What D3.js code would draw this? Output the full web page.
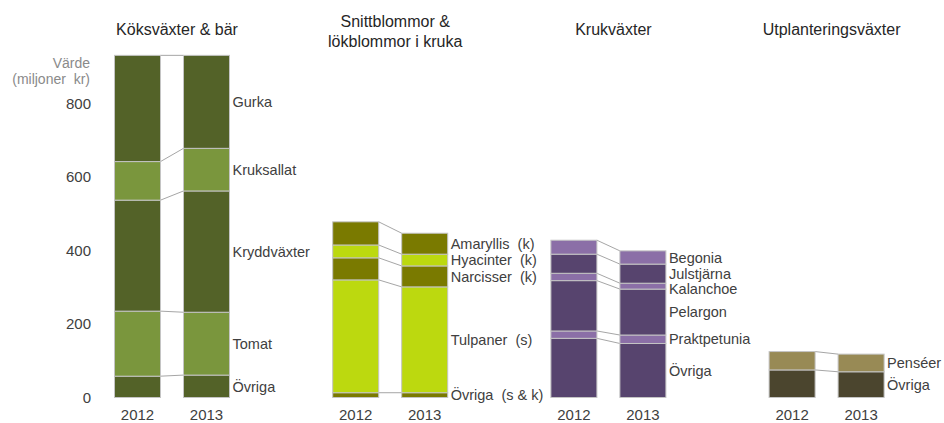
<!DOCTYPE html>
<html>
<head>
<meta charset="utf-8">
<script src="https://cdn.jsdelivr.net/npm/d3@7"></script>
<style>
  html, body { margin: 0; padding: 0; background: #fff; }
  svg { display: block; font-family: "Liberation Sans", Arial, sans-serif; }
</style>
</head>
<body>
<svg id="chart" width="944" height="423"></svg>
<script>
// ---- Data ----
const groups = ["Köksväxter & bär", "Snittblommor & lökblommor i kruka", "Krukväxter", "Utplanteringsväxter"];
const years = ["2012", "2013"];
const yTicks = [0, 200, 400, 600, 800];

// categories bottom -> top
const koksCats = ["Övriga", "Tomat", "Kryddväxter", "Kruksallat", "Gurka"];
const koks2012 = [58, 177, 302, 105, 289];
const koks2013 = [61, 171, 330, 116, 253];

const snittCats = ["Övriga  (s & k)", "Tulpaner  (s)", "Narcisser  (k)", "Hyacinter  (k)", "Amaryllis  (k)"];
const snitt2012 = [13, 307, 60, 35, 63];
const snitt2013 = [13, 288, 57, 32, 57];

const krukCats = ["Övriga", "Praktpetunia", "Pelargon", "Kalanchoe", "Julstjärna", "Begonia"];
const kruk2012 = [161, 20, 137, 20, 52, 38];
const kruk2013 = [147, 23, 125, 16, 52, 36];

const utplCats = ["Övriga", "Penséer"];
const utpl2012 = [75, 50];
const utpl2013 = [70, 48];

// ---- Styles ----
const palettes = [
  { dark: "#536228", light: "#7a963d" },
  { dark: "#7a7a00", light: "#bcd90f" },
  { dark: "#57446e", light: "#8b6fa7" },
  { dark: "#4b452e", light: "#988a55" }
];

const table = [
  { cats: koksCats, v: { "2012": koks2012, "2013": koks2013 } },
  { cats: snittCats, v: { "2012": snitt2012, "2013": snitt2013 } },
  { cats: krukCats, v: { "2012": kruk2012, "2013": kruk2013 } },
  { cats: utplCats, v: { "2012": utpl2012, "2013": utpl2013 } }
];

const svg = d3.select("#chart");
const textColor = "#404040";

const y = d3.scaleLinear().domain([0, 800]).range([397.5, 103.5]);
const outer = d3.scaleBand().domain(groups).range([114.5, 114.5 + 4 * 218.2]).padding(0);
const inner = d3.scaleBand().domain(years).range([0, 115]).paddingInner(1 / 3).paddingOuter(0);
const bw = inner.bandwidth();

// Y axis labels
svg.append("g").selectAll("text").data(yTicks).join("text")
  .attr("x", 91).attr("y", d => y(d)).attr("dy", "0.36em")
  .attr("text-anchor", "end").attr("font-size", 15).attr("fill", textColor)
  .text(d => d);

svg.append("text").attr("x", 90).attr("y", 63).attr("dy", "0.35em")
  .attr("text-anchor", "end").attr("font-size", 14).attr("fill", "#8a8a8a").text("Värde");
svg.append("text").attr("x", 90).attr("y", 79).attr("dy", "0.35em")
  .attr("text-anchor", "end").attr("font-size", 14).attr("fill", "#8a8a8a")
  .style("white-space", "pre").text("(miljoner  kr)");

groups.forEach((g, gi) => {
  const t = table[gi];
  const pal = palettes[gi];
  const gEl = svg.append("g");
  const stacks = {};
  years.forEach(yr => {
    let c = 0;
    stacks[yr] = t.v[yr].map((val, i) => { const s = { y0: c, y1: c + val, i }; c += val; return s; });
  });

  // connectors
  gEl.append("g").selectAll("line").data(t.cats.map((c, i) => i)).join("line")
    .attr("x1", outer(g) + inner("2012") + bw)
    .attr("x2", outer(g) + inner("2013"))
    .attr("y1", i => y(stacks["2012"][i].y1))
    .attr("y2", i => y(stacks["2013"][i].y1))
    .attr("stroke", "#a6a6a6").attr("stroke-width", 1);

  // bars
  years.forEach(yr => {
    gEl.append("g").selectAll("rect").data(stacks[yr]).join("rect")
      .attr("x", outer(g) + inner(yr))
      .attr("width", bw)
      .attr("y", d => y(d.y1))
      .attr("height", d => y(d.y0) - y(d.y1))
      .attr("fill", d => d.i % 2 === 0 ? pal.dark : pal.light)
      .attr("stroke", "#c4c4c4").attr("stroke-width", 1);

    gEl.append("text")
      .attr("x", outer(g) + inner(yr) + bw / 2).attr("y", 415).attr("dy", "0.35em")
      .attr("text-anchor", "middle").attr("font-size", 15).attr("fill", textColor)
      .text(yr);
  });

  // labels: midpoints of 2013 segments, pushed apart (top-down) when too close
  const labs = stacks["2013"].map(d => ({ i: d.i, ly: y((d.y0 + d.y1) / 2) }))
    .sort((a, b) => a.ly - b.ly);
  for (let k = 1; k < labs.length; k++) {
    if (labs[k].ly - labs[k - 1].ly < 15) labs[k].ly = labs[k - 1].ly + 15;
  }
  gEl.append("g").selectAll("text").data(labs).join("text")
    .attr("x", outer(g) + inner("2013") + bw + 3)
    .attr("y", d => d.ly).attr("dy", "0.36em")
    .attr("font-size", 14.5).attr("fill", textColor)
    .style("white-space", "pre")
    .text(d => t.cats[d.i]);

  // title
  const cx = outer(g) + 57.5 + 5;
  const lines = gi === 1 ? ["Snittblommor &", "lökblommor i kruka"] : [g];
  const y0 = gi === 1 ? 21 : 29;
  gEl.append("g").selectAll("text").data(lines).join("text")
    .attr("x", cx).attr("y", (d, i) => y0 + i * 20).attr("dy", "0.35em")
    .attr("text-anchor", "middle").attr("font-size", 16).attr("fill", "#262626")
    .text(d => d);
});
</script>
</body>
</html>
